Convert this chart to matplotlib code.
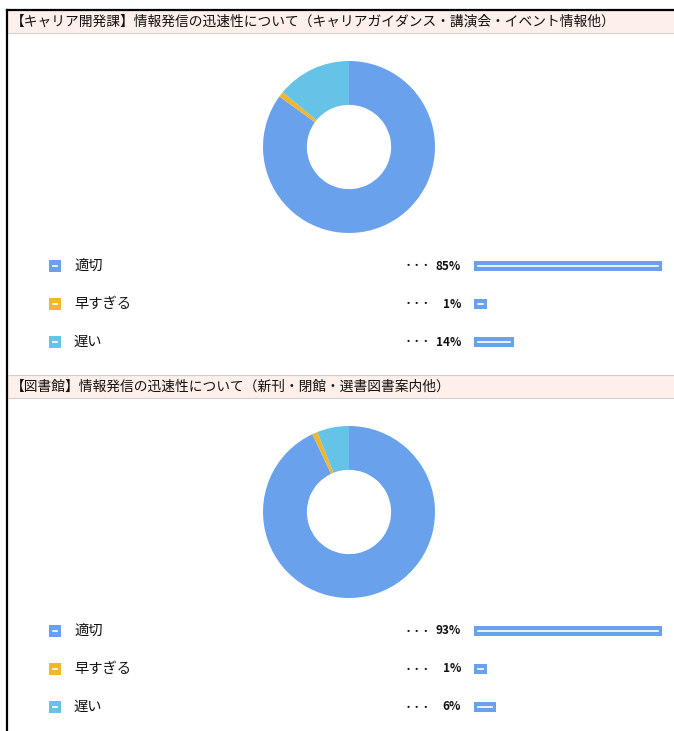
import matplotlib
matplotlib.use("Agg")
import matplotlib.pyplot as plt
from matplotlib.patches import Rectangle

plt.rcParams['font.family'] = ['Noto Sans CJK JP', 'DejaVu Sans']

# survey data
titles = ['【キャリア開発課】情報発信の迅速性について（キャリアガイダンス・講演会・イベント情報他）',
          '【図書館】情報発信の迅速性について（新刊・閉館・選書図書案内他）']
labels = ['適切', '早すぎる', '遅い']
career_pct = [85, 1, 14]
library_pct = [93, 1, 6]
colors = ['#6aa1ec', '#f2b52e', '#64c3e6']

W, H = 674, 731
fig = plt.figure(figsize=(W / 100, H / 100), dpi=100)
ax = fig.add_axes([0, 0, 1, 1])
ax.set_xlim(0, W)
ax.set_ylim(H, 0)
ax.axis('off')

# outer frame lines
ax.plot([7, 7], [10, H], color='black', lw=1.6)
ax.plot([7, W], [10, 10], color='black', lw=1.6)


def section(top, title, pct):
    # header bar
    ax.add_patch(Rectangle((8, top), W - 8, 22, facecolor='#fdefe9', edgecolor='none'))
    ax.plot([8, W], [top + 22, top + 22], color='#d0d0d0', lw=0.8)
    ax.text(11, top + 11, title, fontsize=9.9, va='center', ha='left', color='#111111')

    # donut
    cy = top + 136
    r = 86
    pax = fig.add_axes([(349 - r) / W, 1 - (cy + r) / H, 2 * r / W, 2 * r / H])
    pax.pie(pct, colors=colors, startangle=90, counterclock=False,
            wedgeprops=dict(width=0.51, edgecolor='none'))
    pax.set_xlim(-1, 1)
    pax.set_ylim(-1, 1)
    pax.set_aspect('equal')
    pax.axis('off')

    # legend rows
    mx = max(pct)
    for i, (lab, p, c) in enumerate(zip(labels, pct, colors)):
        y = top + 255 + i * 38
        ax.add_patch(Rectangle((49, y - 6), 12, 12, facecolor=c, edgecolor='none'))
        ax.plot([53, 57], [y, y], color='white', lw=1.2)
        ax.text(74, y, lab, fontsize=10.3, va='center', ha='left', color='#111111')
        ax.text(404, y, '・・・', fontsize=6.5, va='center', ha='left', color='#111111',
                fontweight='bold')
        ax.text(461, y, f'{p}%', fontsize=8.5, va='center', ha='right', color='#111111',
                fontweight='bold')
        bw = 11 + 177 * p / mx
        ax.add_patch(Rectangle((474, y - 5), bw, 10, facecolor=colors[0], edgecolor='none'))
        ax.plot([478, 474 + bw - 4], [y, y], color='white', lw=1.2)


section(11, titles[0], career_pct)
ax.plot([8, W], [375, 375], color='#d0d0d0', lw=0.8)
section(376, titles[1], library_pct)

fig.savefig('out.png', dpi=100)
